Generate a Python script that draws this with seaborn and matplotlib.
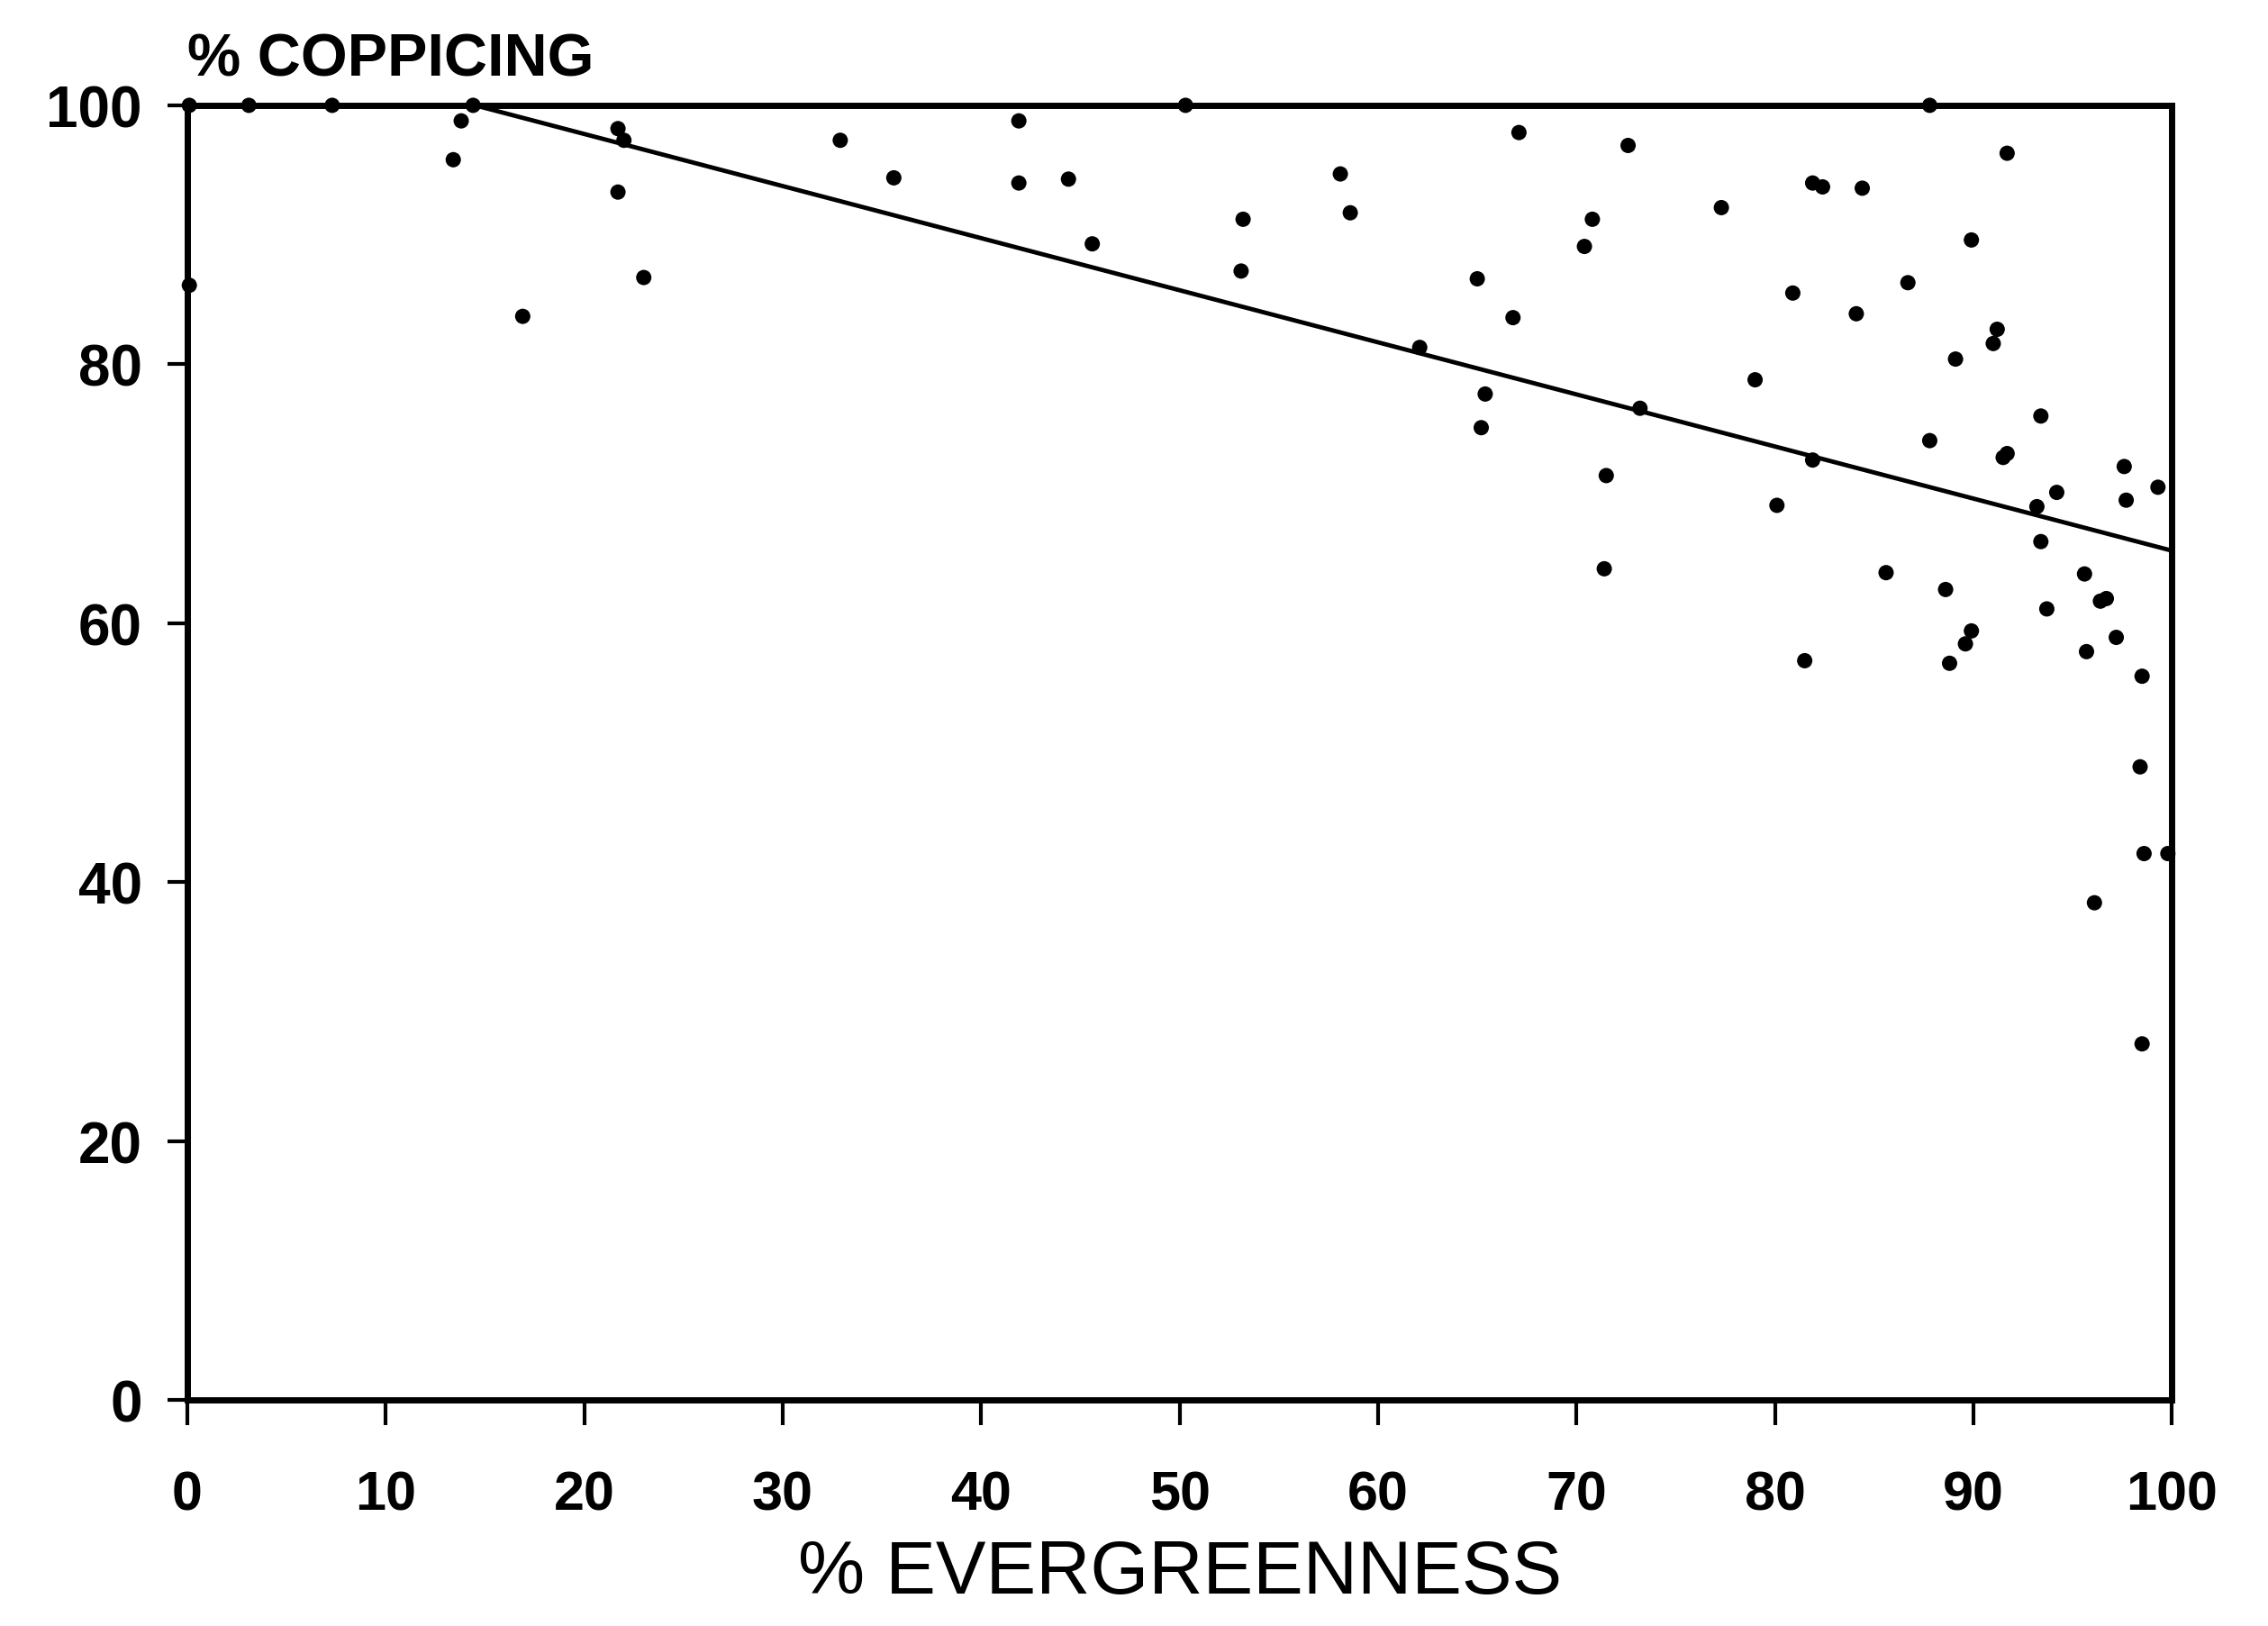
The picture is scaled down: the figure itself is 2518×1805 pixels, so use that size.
import matplotlib
matplotlib.use('Agg')
import matplotlib.pyplot as plt
import seaborn as sns

# % evergreenness (x) and % coppicing (y)
evergreen = [0.1, 3.1, 7.3, 14.4, 13.8, 13.4, 0.1, 16.9, 21.7, 22.0,
             21.7, 23.0, 32.9, 35.6, 41.9, 41.9, 44.4, 45.6, 50.3, 53.1,
             53.2, 58.1, 58.6, 62.1, 65.0, 65.4, 65.2, 66.8, 67.1, 70.4,
             70.8, 72.6, 71.5, 71.4, 73.2, 77.3, 79.0, 80.1, 80.9, 81.5,
             81.9, 81.9, 82.4, 84.4, 84.1, 85.6, 86.7, 87.8, 87.8, 88.6,
             88.8, 89.1, 89.9, 89.6, 89.9, 91.0, 91.2, 91.5, 91.7, 91.7,
             93.4, 93.2, 93.4, 93.7, 94.2, 95.6, 95.7, 96.1, 96.4, 96.7,
             97.2, 97.6, 97.7, 98.5, 98.4, 98.6, 98.5, 99.3, 99.8]
coppicing = [100, 100, 100, 100, 98.8, 95.8, 86.1, 83.7, 98.2, 97.3,
             93.3, 86.7, 97.3, 94.4, 98.8, 94.0, 94.3, 89.3, 100, 87.2,
             91.2, 94.7, 91.7, 81.3, 86.6, 77.7, 75.1, 83.6, 97.9, 89.1,
             91.2, 96.9, 71.4, 64.2, 76.6, 92.1, 78.8, 69.1, 85.5, 57.1,
             72.6, 94.0, 93.7, 93.6, 83.9, 63.9, 86.3, 100, 74.1, 62.6,
             56.9, 80.4, 89.6, 58.4, 59.4, 81.6, 82.7, 72.8, 73.1, 96.3,
             76.0, 69.0, 66.3, 61.1, 70.1, 63.8, 57.8, 38.4, 61.7, 61.9,
             58.9, 72.1, 69.5, 55.9, 48.9, 42.2, 27.5, 70.5, 42.2]

# fitted regression line as drawn (starts where it leaves the 100 % line)
fit_x = [14.5, 100]
fit_y = [100, 65.6]

x_ticks = list(range(0, 101, 10))
y_ticks = list(range(0, 101, 20))

sns.set_style('white')
plt.rcParams['font.family'] = ['Liberation Sans', 'DejaVu Sans']
plt.rcParams['text.color'] = 'black'

fig = plt.figure(figsize=(25.18, 18.06), dpi=100)
ax = fig.add_axes([0.0826, 0.139, 0.875, 0.7957])

sns.scatterplot(x=evergreen, y=coppicing, color='black', s=150,
                edgecolor='none', ax=ax, clip_on=False, legend=False, zorder=3)
sns.lineplot(x=fit_x, y=fit_y, color='black', linewidth=3.5, ax=ax)

ax.set_xlim(0, 100)
ax.set_ylim(0, 100)
ax.set_xticks(x_ticks)
ax.set_yticks(y_ticks)
ax.set_xticklabels([str(t) for t in x_ticks], fontsize=44, fontweight='bold')
ax.set_yticklabels([str(t) for t in y_ticks], fontsize=46, fontweight='bold')
ax.tick_params(axis='x', direction='out', length=20, width=3, pad=36,
               colors='black', bottom=True)
ax.tick_params(axis='y', direction='out', length=16, width=3, pad=20,
               colors='black', left=True)

for side in ['left', 'bottom', 'top', 'right']:
    ax.spines[side].set_color('black')
    ax.spines[side].set_linewidth(5)

ax.set_xlabel('')
ax.set_ylabel('')
ax.text(0.0, 1.023, '% COPPICING', transform=ax.transAxes, ha='left',
        va='baseline', fontsize=48, fontweight='bold', color='black')
ax.text(0.5, -0.149, '% EVERGREENNESS', transform=ax.transAxes, ha='center',
        va='baseline', fontsize=60, color='black')

fig.savefig('out.png', dpi=100, facecolor='white')
